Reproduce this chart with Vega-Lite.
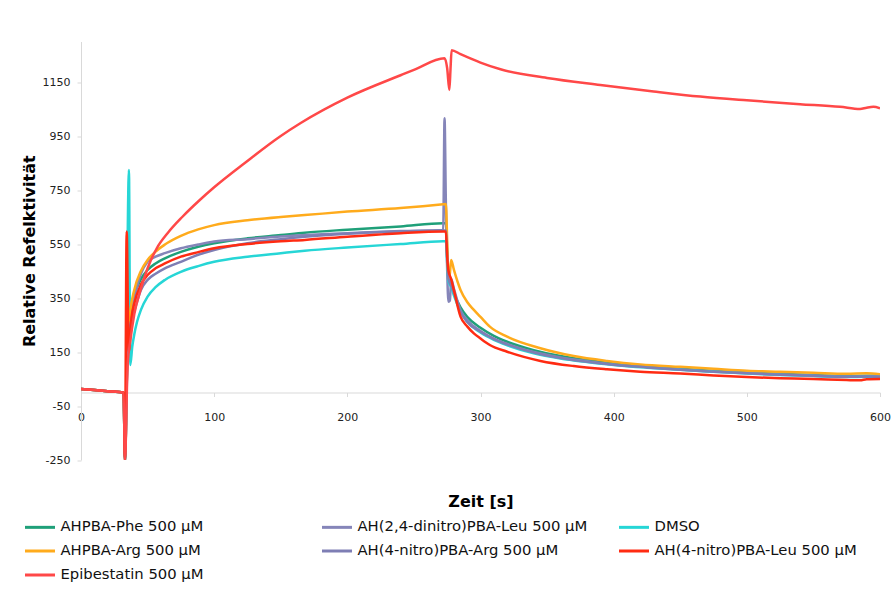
{
  "$schema": "https://vega.github.io/schema/vega-lite/v6.json",
  "width": 799,
  "height": 418.5,
  "autosize": {"type": "none"},
  "padding": {"left": 81, "top": 41.5, "right": 15, "bottom": 136},
  "background": "white",
  "config": {
    "view": {"stroke": null},
    "font": "DejaVu Sans",
    "axis": {
      "grid": false,
      "domainColor": "#d9d9d9",
      "tickColor": "#d9d9d9",
      "tickSize": 4,
      "labelFont": "DejaVu Sans",
      "labelFontSize": 11,
      "labelColor": "#222222",
      "titleFont": "DejaVu Sans",
      "titleFontSize": 16,
      "titleFontWeight": "bold",
      "titleColor": "#000000"
    }
  },
  "datasets": {
    "d": [
      {"s":"AHPBA-Phe 500 µM","t":0,"v":13},{"s":"AHPBA-Phe 500 µM","t":10,"v":9},{"s":"AHPBA-Phe 500 µM","t":20,"v":5},{"s":"AHPBA-Phe 500 µM","t":32,"v":0},{"s":"AHPBA-Phe 500 µM","t":33,"v":-250},{"s":"AHPBA-Phe 500 µM","t":35,"v":180},{"s":"AHPBA-Phe 500 µM","t":37,"v":290},{"s":"AHPBA-Phe 500 µM","t":40,"v":360},{"s":"AHPBA-Phe 500 µM","t":45,"v":420},{"s":"AHPBA-Phe 500 µM","t":50,"v":454},{"s":"AHPBA-Phe 500 µM","t":56,"v":478},{"s":"AHPBA-Phe 500 µM","t":63,"v":497},{"s":"AHPBA-Phe 500 µM","t":75,"v":521},{"s":"AHPBA-Phe 500 µM","t":88,"v":540},{"s":"AHPBA-Phe 500 µM","t":100,"v":553},{"s":"AHPBA-Phe 500 µM","t":125,"v":571},{"s":"AHPBA-Phe 500 µM","t":150,"v":583},{"s":"AHPBA-Phe 500 µM","t":168,"v":592},{"s":"AHPBA-Phe 500 µM","t":200,"v":603},{"s":"AHPBA-Phe 500 µM","t":240,"v":615},{"s":"AHPBA-Phe 500 µM","t":272,"v":627},{"s":"AHPBA-Phe 500 µM","t":274,"v":627},{"s":"AHPBA-Phe 500 µM","t":275,"v":520},{"s":"AHPBA-Phe 500 µM","t":276,"v":430},{"s":"AHPBA-Phe 500 µM","t":278,"v":400},{"s":"AHPBA-Phe 500 µM","t":280,"v":370},{"s":"AHPBA-Phe 500 µM","t":285,"v":315},{"s":"AHPBA-Phe 500 µM","t":290,"v":280},{"s":"AHPBA-Phe 500 µM","t":300,"v":240},{"s":"AHPBA-Phe 500 µM","t":310,"v":210},{"s":"AHPBA-Phe 500 µM","t":320,"v":188},{"s":"AHPBA-Phe 500 µM","t":340,"v":157},{"s":"AHPBA-Phe 500 µM","t":360,"v":135},{"s":"AHPBA-Phe 500 µM","t":380,"v":120},{"s":"AHPBA-Phe 500 µM","t":400,"v":108},{"s":"AHPBA-Phe 500 µM","t":425,"v":97},{"s":"AHPBA-Phe 500 µM","t":450,"v":88},{"s":"AHPBA-Phe 500 µM","t":475,"v":80},{"s":"AHPBA-Phe 500 µM","t":500,"v":74},{"s":"AHPBA-Phe 500 µM","t":525,"v":69},{"s":"AHPBA-Phe 500 µM","t":550,"v":65},{"s":"AHPBA-Phe 500 µM","t":575,"v":61},{"s":"AHPBA-Phe 500 µM","t":590,"v":62},{"s":"AHPBA-Phe 500 µM","t":600,"v":62},

      {"s":"AH(2,4-dinitro)PBA-Leu 500 µM","t":0,"v":13},{"s":"AH(2,4-dinitro)PBA-Leu 500 µM","t":10,"v":9},{"s":"AH(2,4-dinitro)PBA-Leu 500 µM","t":20,"v":5},{"s":"AH(2,4-dinitro)PBA-Leu 500 µM","t":32,"v":0},{"s":"AH(2,4-dinitro)PBA-Leu 500 µM","t":33,"v":-250},{"s":"AH(2,4-dinitro)PBA-Leu 500 µM","t":35,"v":170},{"s":"AH(2,4-dinitro)PBA-Leu 500 µM","t":37,"v":280},{"s":"AH(2,4-dinitro)PBA-Leu 500 µM","t":40,"v":350},{"s":"AH(2,4-dinitro)PBA-Leu 500 µM","t":45,"v":440},{"s":"AH(2,4-dinitro)PBA-Leu 500 µM","t":50,"v":484},{"s":"AH(2,4-dinitro)PBA-Leu 500 µM","t":56,"v":503},{"s":"AH(2,4-dinitro)PBA-Leu 500 µM","t":63,"v":516},{"s":"AH(2,4-dinitro)PBA-Leu 500 µM","t":75,"v":534},{"s":"AH(2,4-dinitro)PBA-Leu 500 µM","t":88,"v":548},{"s":"AH(2,4-dinitro)PBA-Leu 500 µM","t":100,"v":559},{"s":"AH(2,4-dinitro)PBA-Leu 500 µM","t":125,"v":568},{"s":"AH(2,4-dinitro)PBA-Leu 500 µM","t":150,"v":578},{"s":"AH(2,4-dinitro)PBA-Leu 500 µM","t":168,"v":583},{"s":"AH(2,4-dinitro)PBA-Leu 500 µM","t":200,"v":590},{"s":"AH(2,4-dinitro)PBA-Leu 500 µM","t":240,"v":598},{"s":"AH(2,4-dinitro)PBA-Leu 500 µM","t":272,"v":602},{"s":"AH(2,4-dinitro)PBA-Leu 500 µM","t":273,"v":1016},{"s":"AH(2,4-dinitro)PBA-Leu 500 µM","t":274,"v":700},{"s":"AH(2,4-dinitro)PBA-Leu 500 µM","t":276,"v":336},{"s":"AH(2,4-dinitro)PBA-Leu 500 µM","t":277,"v":340},{"s":"AH(2,4-dinitro)PBA-Leu 500 µM","t":278,"v":420},{"s":"AH(2,4-dinitro)PBA-Leu 500 µM","t":280,"v":385},{"s":"AH(2,4-dinitro)PBA-Leu 500 µM","t":285,"v":305},{"s":"AH(2,4-dinitro)PBA-Leu 500 µM","t":290,"v":268},{"s":"AH(2,4-dinitro)PBA-Leu 500 µM","t":300,"v":228},{"s":"AH(2,4-dinitro)PBA-Leu 500 µM","t":310,"v":200},{"s":"AH(2,4-dinitro)PBA-Leu 500 µM","t":320,"v":180},{"s":"AH(2,4-dinitro)PBA-Leu 500 µM","t":340,"v":150},{"s":"AH(2,4-dinitro)PBA-Leu 500 µM","t":360,"v":130},{"s":"AH(2,4-dinitro)PBA-Leu 500 µM","t":380,"v":116},{"s":"AH(2,4-dinitro)PBA-Leu 500 µM","t":400,"v":104},{"s":"AH(2,4-dinitro)PBA-Leu 500 µM","t":425,"v":94},{"s":"AH(2,4-dinitro)PBA-Leu 500 µM","t":450,"v":85},{"s":"AH(2,4-dinitro)PBA-Leu 500 µM","t":475,"v":78},{"s":"AH(2,4-dinitro)PBA-Leu 500 µM","t":500,"v":72},{"s":"AH(2,4-dinitro)PBA-Leu 500 µM","t":525,"v":67},{"s":"AH(2,4-dinitro)PBA-Leu 500 µM","t":550,"v":63},{"s":"AH(2,4-dinitro)PBA-Leu 500 µM","t":575,"v":59},{"s":"AH(2,4-dinitro)PBA-Leu 500 µM","t":590,"v":60},{"s":"AH(2,4-dinitro)PBA-Leu 500 µM","t":600,"v":60},

      {"s":"DMSO","t":0,"v":13},{"s":"DMSO","t":10,"v":9},{"s":"DMSO","t":20,"v":5},{"s":"DMSO","t":32,"v":0},{"s":"DMSO","t":33,"v":-250},{"s":"DMSO","t":36,"v":824},{"s":"DMSO","t":37,"v":102},{"s":"DMSO","t":38.5,"v":170},{"s":"DMSO","t":40,"v":215},{"s":"DMSO","t":42,"v":260},{"s":"DMSO","t":45,"v":306},{"s":"DMSO","t":50,"v":355},{"s":"DMSO","t":56,"v":390},{"s":"DMSO","t":63,"v":417},{"s":"DMSO","t":75,"v":447},{"s":"DMSO","t":88,"v":468},{"s":"DMSO","t":100,"v":484},{"s":"DMSO","t":125,"v":503},{"s":"DMSO","t":150,"v":516},{"s":"DMSO","t":168,"v":525},{"s":"DMSO","t":200,"v":537},{"s":"DMSO","t":240,"v":550},{"s":"DMSO","t":272,"v":560},{"s":"DMSO","t":274,"v":560},{"s":"DMSO","t":275,"v":480},{"s":"DMSO","t":276,"v":410},{"s":"DMSO","t":278,"v":390},{"s":"DMSO","t":280,"v":360},{"s":"DMSO","t":285,"v":300},{"s":"DMSO","t":290,"v":262},{"s":"DMSO","t":300,"v":222},{"s":"DMSO","t":310,"v":195},{"s":"DMSO","t":320,"v":175},{"s":"DMSO","t":340,"v":145},{"s":"DMSO","t":360,"v":126},{"s":"DMSO","t":380,"v":113},{"s":"DMSO","t":400,"v":102},{"s":"DMSO","t":425,"v":92},{"s":"DMSO","t":450,"v":84},{"s":"DMSO","t":475,"v":77},{"s":"DMSO","t":500,"v":70},{"s":"DMSO","t":525,"v":65},{"s":"DMSO","t":550,"v":61},{"s":"DMSO","t":575,"v":57},{"s":"DMSO","t":590,"v":58},{"s":"DMSO","t":600,"v":57},

      {"s":"AHPBA-Arg 500 µM","t":0,"v":13},{"s":"AHPBA-Arg 500 µM","t":10,"v":9},{"s":"AHPBA-Arg 500 µM","t":20,"v":5},{"s":"AHPBA-Arg 500 µM","t":32,"v":0},{"s":"AHPBA-Arg 500 µM","t":33,"v":-250},{"s":"AHPBA-Arg 500 µM","t":35,"v":180},{"s":"AHPBA-Arg 500 µM","t":37,"v":300},{"s":"AHPBA-Arg 500 µM","t":40,"v":380},{"s":"AHPBA-Arg 500 µM","t":45,"v":450},{"s":"AHPBA-Arg 500 µM","t":50,"v":491},{"s":"AHPBA-Arg 500 µM","t":56,"v":522},{"s":"AHPBA-Arg 500 µM","t":63,"v":548},{"s":"AHPBA-Arg 500 µM","t":75,"v":580},{"s":"AHPBA-Arg 500 µM","t":88,"v":604},{"s":"AHPBA-Arg 500 µM","t":100,"v":620},{"s":"AHPBA-Arg 500 µM","t":125,"v":638},{"s":"AHPBA-Arg 500 µM","t":150,"v":650},{"s":"AHPBA-Arg 500 µM","t":168,"v":657},{"s":"AHPBA-Arg 500 µM","t":200,"v":670},{"s":"AHPBA-Arg 500 µM","t":240,"v":683},{"s":"AHPBA-Arg 500 µM","t":272,"v":697},{"s":"AHPBA-Arg 500 µM","t":274,"v":698},{"s":"AHPBA-Arg 500 µM","t":275,"v":560},{"s":"AHPBA-Arg 500 µM","t":276,"v":420},{"s":"AHPBA-Arg 500 µM","t":277,"v":440},{"s":"AHPBA-Arg 500 µM","t":278,"v":491},{"s":"AHPBA-Arg 500 µM","t":280,"v":455},{"s":"AHPBA-Arg 500 µM","t":285,"v":380},{"s":"AHPBA-Arg 500 µM","t":290,"v":335},{"s":"AHPBA-Arg 500 µM","t":295,"v":306},{"s":"AHPBA-Arg 500 µM","t":300,"v":280},{"s":"AHPBA-Arg 500 µM","t":307,"v":244},{"s":"AHPBA-Arg 500 µM","t":320,"v":207},{"s":"AHPBA-Arg 500 µM","t":345,"v":164},{"s":"AHPBA-Arg 500 µM","t":370,"v":135},{"s":"AHPBA-Arg 500 µM","t":395,"v":117},{"s":"AHPBA-Arg 500 µM","t":420,"v":104},{"s":"AHPBA-Arg 500 µM","t":450,"v":95},{"s":"AHPBA-Arg 500 µM","t":475,"v":88},{"s":"AHPBA-Arg 500 µM","t":500,"v":81},{"s":"AHPBA-Arg 500 µM","t":525,"v":77},{"s":"AHPBA-Arg 500 µM","t":550,"v":73},{"s":"AHPBA-Arg 500 µM","t":575,"v":69},{"s":"AHPBA-Arg 500 µM","t":590,"v":71},{"s":"AHPBA-Arg 500 µM","t":600,"v":68},

      {"s":"AH(4-nitro)PBA-Arg 500 µM","t":0,"v":13},{"s":"AH(4-nitro)PBA-Arg 500 µM","t":10,"v":9},{"s":"AH(4-nitro)PBA-Arg 500 µM","t":20,"v":5},{"s":"AH(4-nitro)PBA-Arg 500 µM","t":32,"v":0},{"s":"AH(4-nitro)PBA-Arg 500 µM","t":33,"v":-250},{"s":"AH(4-nitro)PBA-Arg 500 µM","t":35,"v":150},{"s":"AH(4-nitro)PBA-Arg 500 µM","t":37,"v":250},{"s":"AH(4-nitro)PBA-Arg 500 µM","t":40,"v":300},{"s":"AH(4-nitro)PBA-Arg 500 µM","t":45,"v":380},{"s":"AH(4-nitro)PBA-Arg 500 µM","t":50,"v":417},{"s":"AH(4-nitro)PBA-Arg 500 µM","t":56,"v":440},{"s":"AH(4-nitro)PBA-Arg 500 µM","t":63,"v":460},{"s":"AH(4-nitro)PBA-Arg 500 µM","t":75,"v":484},{"s":"AH(4-nitro)PBA-Arg 500 µM","t":88,"v":510},{"s":"AH(4-nitro)PBA-Arg 500 µM","t":100,"v":528},{"s":"AH(4-nitro)PBA-Arg 500 µM","t":125,"v":553},{"s":"AH(4-nitro)PBA-Arg 500 µM","t":150,"v":568},{"s":"AH(4-nitro)PBA-Arg 500 µM","t":168,"v":577},{"s":"AH(4-nitro)PBA-Arg 500 µM","t":200,"v":588},{"s":"AH(4-nitro)PBA-Arg 500 µM","t":240,"v":596},{"s":"AH(4-nitro)PBA-Arg 500 µM","t":272,"v":600},{"s":"AH(4-nitro)PBA-Arg 500 µM","t":274,"v":600},{"s":"AH(4-nitro)PBA-Arg 500 µM","t":275,"v":500},{"s":"AH(4-nitro)PBA-Arg 500 µM","t":276,"v":420},{"s":"AH(4-nitro)PBA-Arg 500 µM","t":278,"v":395},{"s":"AH(4-nitro)PBA-Arg 500 µM","t":280,"v":370},{"s":"AH(4-nitro)PBA-Arg 500 µM","t":285,"v":300},{"s":"AH(4-nitro)PBA-Arg 500 µM","t":290,"v":262},{"s":"AH(4-nitro)PBA-Arg 500 µM","t":300,"v":225},{"s":"AH(4-nitro)PBA-Arg 500 µM","t":310,"v":198},{"s":"AH(4-nitro)PBA-Arg 500 µM","t":320,"v":178},{"s":"AH(4-nitro)PBA-Arg 500 µM","t":340,"v":148},{"s":"AH(4-nitro)PBA-Arg 500 µM","t":360,"v":128},{"s":"AH(4-nitro)PBA-Arg 500 µM","t":380,"v":114},{"s":"AH(4-nitro)PBA-Arg 500 µM","t":400,"v":103},{"s":"AH(4-nitro)PBA-Arg 500 µM","t":425,"v":93},{"s":"AH(4-nitro)PBA-Arg 500 µM","t":450,"v":84},{"s":"AH(4-nitro)PBA-Arg 500 µM","t":475,"v":77},{"s":"AH(4-nitro)PBA-Arg 500 µM","t":500,"v":71},{"s":"AH(4-nitro)PBA-Arg 500 µM","t":525,"v":66},{"s":"AH(4-nitro)PBA-Arg 500 µM","t":550,"v":62},{"s":"AH(4-nitro)PBA-Arg 500 µM","t":575,"v":58},{"s":"AH(4-nitro)PBA-Arg 500 µM","t":590,"v":59},{"s":"AH(4-nitro)PBA-Arg 500 µM","t":600,"v":58},

      {"s":"AH(4-nitro)PBA-Leu 500 µM","t":0,"v":13},{"s":"AH(4-nitro)PBA-Leu 500 µM","t":10,"v":9},{"s":"AH(4-nitro)PBA-Leu 500 µM","t":20,"v":5},{"s":"AH(4-nitro)PBA-Leu 500 µM","t":32,"v":0},{"s":"AH(4-nitro)PBA-Leu 500 µM","t":33,"v":-250},{"s":"AH(4-nitro)PBA-Leu 500 µM","t":34.3,"v":596},{"s":"AH(4-nitro)PBA-Leu 500 µM","t":35.8,"v":150},{"s":"AH(4-nitro)PBA-Leu 500 µM","t":38,"v":280},{"s":"AH(4-nitro)PBA-Leu 500 µM","t":40,"v":330},{"s":"AH(4-nitro)PBA-Leu 500 µM","t":45,"v":400},{"s":"AH(4-nitro)PBA-Leu 500 µM","t":50,"v":435},{"s":"AH(4-nitro)PBA-Leu 500 µM","t":56,"v":460},{"s":"AH(4-nitro)PBA-Leu 500 µM","t":63,"v":478},{"s":"AH(4-nitro)PBA-Leu 500 µM","t":75,"v":503},{"s":"AH(4-nitro)PBA-Leu 500 µM","t":88,"v":520},{"s":"AH(4-nitro)PBA-Leu 500 µM","t":100,"v":534},{"s":"AH(4-nitro)PBA-Leu 500 µM","t":125,"v":550},{"s":"AH(4-nitro)PBA-Leu 500 µM","t":150,"v":560},{"s":"AH(4-nitro)PBA-Leu 500 µM","t":168,"v":565},{"s":"AH(4-nitro)PBA-Leu 500 µM","t":200,"v":577},{"s":"AH(4-nitro)PBA-Leu 500 µM","t":240,"v":590},{"s":"AH(4-nitro)PBA-Leu 500 µM","t":272,"v":596},{"s":"AH(4-nitro)PBA-Leu 500 µM","t":274,"v":596},{"s":"AH(4-nitro)PBA-Leu 500 µM","t":275,"v":500},{"s":"AH(4-nitro)PBA-Leu 500 µM","t":276,"v":450},{"s":"AH(4-nitro)PBA-Leu 500 µM","t":278,"v":420},{"s":"AH(4-nitro)PBA-Leu 500 µM","t":280,"v":380},{"s":"AH(4-nitro)PBA-Leu 500 µM","t":285,"v":281},{"s":"AH(4-nitro)PBA-Leu 500 µM","t":290,"v":245},{"s":"AH(4-nitro)PBA-Leu 500 µM","t":295,"v":219},{"s":"AH(4-nitro)PBA-Leu 500 µM","t":300,"v":200},{"s":"AH(4-nitro)PBA-Leu 500 µM","t":307,"v":176},{"s":"AH(4-nitro)PBA-Leu 500 µM","t":320,"v":151},{"s":"AH(4-nitro)PBA-Leu 500 µM","t":345,"v":117},{"s":"AH(4-nitro)PBA-Leu 500 µM","t":370,"v":98},{"s":"AH(4-nitro)PBA-Leu 500 µM","t":395,"v":86},{"s":"AH(4-nitro)PBA-Leu 500 µM","t":420,"v":77},{"s":"AH(4-nitro)PBA-Leu 500 µM","t":450,"v":70},{"s":"AH(4-nitro)PBA-Leu 500 µM","t":475,"v":63},{"s":"AH(4-nitro)PBA-Leu 500 µM","t":500,"v":57},{"s":"AH(4-nitro)PBA-Leu 500 µM","t":525,"v":53},{"s":"AH(4-nitro)PBA-Leu 500 µM","t":550,"v":50},{"s":"AH(4-nitro)PBA-Leu 500 µM","t":575,"v":46},{"s":"AH(4-nitro)PBA-Leu 500 µM","t":585,"v":45},{"s":"AH(4-nitro)PBA-Leu 500 µM","t":590,"v":49},{"s":"AH(4-nitro)PBA-Leu 500 µM","t":600,"v":50},

      {"s":"Epibestatin 500 µM","t":0,"v":13},{"s":"Epibestatin 500 µM","t":10,"v":9},{"s":"Epibestatin 500 µM","t":20,"v":5},{"s":"Epibestatin 500 µM","t":32,"v":0},{"s":"Epibestatin 500 µM","t":33,"v":-250},{"s":"Epibestatin 500 µM","t":35,"v":100},{"s":"Epibestatin 500 µM","t":37,"v":190},{"s":"Epibestatin 500 µM","t":40,"v":290},{"s":"Epibestatin 500 µM","t":45,"v":385},{"s":"Epibestatin 500 µM","t":50,"v":460},{"s":"Epibestatin 500 µM","t":57,"v":535},{"s":"Epibestatin 500 µM","t":65,"v":590},{"s":"Epibestatin 500 µM","t":76,"v":650},{"s":"Epibestatin 500 µM","t":89,"v":712},{"s":"Epibestatin 500 µM","t":100,"v":760},{"s":"Epibestatin 500 µM","t":123,"v":850},{"s":"Epibestatin 500 µM","t":150,"v":950},{"s":"Epibestatin 500 µM","t":165,"v":998},{"s":"Epibestatin 500 µM","t":200,"v":1092},{"s":"Epibestatin 500 µM","t":240,"v":1175},{"s":"Epibestatin 500 µM","t":250,"v":1195},{"s":"Epibestatin 500 µM","t":273,"v":1238},{"s":"Epibestatin 500 µM","t":275,"v":1200},{"s":"Epibestatin 500 µM","t":276.6,"v":1120},{"s":"Epibestatin 500 µM","t":277.5,"v":1200},{"s":"Epibestatin 500 µM","t":278.3,"v":1268},{"s":"Epibestatin 500 µM","t":285,"v":1253},{"s":"Epibestatin 500 µM","t":300,"v":1222},{"s":"Epibestatin 500 µM","t":315,"v":1197},{"s":"Epibestatin 500 µM","t":350,"v":1165},{"s":"Epibestatin 500 µM","t":390,"v":1139},{"s":"Epibestatin 500 µM","t":430,"v":1115},{"s":"Epibestatin 500 µM","t":465,"v":1096},{"s":"Epibestatin 500 µM","t":500,"v":1082},{"s":"Epibestatin 500 µM","t":540,"v":1068},{"s":"Epibestatin 500 µM","t":570,"v":1058},{"s":"Epibestatin 500 µM","t":585,"v":1050},{"s":"Epibestatin 500 µM","t":590,"v":1055},{"s":"Epibestatin 500 µM","t":595,"v":1058},{"s":"Epibestatin 500 µM","t":600,"v":1053}
    ]
  },
  "data": {"name": "d"},
  "mark": {"type": "line", "strokeWidth": 2.5, "interpolate": "monotone", "clip": true},
  "encoding": {
    "x": {
      "field": "t", "type": "quantitative",
      "scale": {"domain": [0, 600], "nice": false, "zero": false},
      "axis": {
        "title": "Zeit [s]",
        "values": [0, 100, 200, 300, 400, 500, 600],
        "labelExpr": "'' + datum.value",
        "labelFlush": false,
        "offset": -67.5,
        "labelPadding": 15,
        "titlePadding": 71
      }
    },
    "y": {
      "field": "v", "type": "quantitative",
      "scale": {"domain": [-250, 1300], "nice": false, "zero": false},
      "axis": {
        "title": "Relative Refelktivität",
        "values": [-250, -50, 150, 350, 550, 750, 950, 1150],
        "labelExpr": "'' + datum.value",
        "labelPadding": 7,
        "titlePadding": 5
      }
    },
    "color": {
      "field": "s", "type": "nominal",
      "scale": {
        "domain": ["AHPBA-Phe 500 µM", "AH(2,4-dinitro)PBA-Leu 500 µM", "DMSO", "AHPBA-Arg 500 µM", "AH(4-nitro)PBA-Arg 500 µM", "AH(4-nitro)PBA-Leu 500 µM", "Epibestatin 500 µM"],
        "range": ["#1fa079", "#8585b9", "#26d6d6", "#ffab1c", "#7e7eb4", "#ff2b12", "#ff4848"]
      },
      "legend": {
        "title": null,
        "orient": "none",
        "direction": "horizontal",
        "legendX": -57.5,
        "legendY": 469,
        "columns": 3,
        "gridAlign": "all",
        "columnPadding": 25,
        "rowPadding": -6,
        "padding": 0,
        "symbolType": "stroke",
        "symbolSize": 900,
        "symbolStrokeWidth": 3,
        "labelOffset": 4,
        "labelFont": "DejaVu Sans",
        "labelFontSize": 14.8,
        "labelColor": "#111111",
        "labelLimit": 400
      }
    }
  }
}
